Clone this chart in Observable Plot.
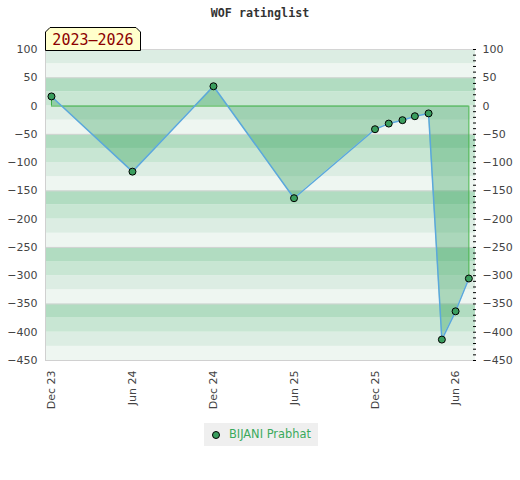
<!DOCTYPE html>
<html><head><meta charset="utf-8">
<script src="https://cdn.jsdelivr.net/npm/d3@7"></script>
<script src="https://cdn.jsdelivr.net/npm/@observablehq/plot@0.6"></script>
<style>
body{margin:0;background:#fff;}
#wrap{position:relative;width:520px;height:480px;}
#chart{position:absolute;left:0;top:0;}
#title{position:absolute;top:6px;left:0;width:520px;text-align:center;font:bold 11.7px "DejaVu Sans Mono";color:#333;}
#period{position:absolute;left:45px;top:27px;}
#legend{position:absolute;left:204px;top:423px;width:114px;height:23px;background:#efefef;font:11.4px "DejaVu Sans";color:#3aaa5c;}
#legend svg{position:absolute;left:6px;top:6px;}
#legend span{position:absolute;left:25px;top:4px;white-space:nowrap;}
</style>
</head><body>
<div id="wrap">
  <div id="chart"></div>
  <div id="title"></div>
  <svg id="period" width="97" height="24"></svg>
  <div id="legend"><svg width="12" height="12"><circle cx="6" cy="6" r="3.5" fill="#3a9e5e" stroke="#000" stroke-width="1"/></svg><span></span></div>
</div>
<script>
const chartTitle = "WOF ratinglist";
const period = "2023–2026";
const player = "BIJANI Prabhat";
const dates = ["2023-12-01","2024-06-01","2024-12-01","2025-06-01","2025-12-01","2026-01-01","2026-02-01","2026-03-01","2026-04-01","2026-05-01","2026-06-01","2026-07-01"];
const ratings = [17, -116, 35, -163, -41, -31, -25, -18, -13, -413, -363, -305];
const xTickDates = ["2023-12-01","2024-06-01","2024-12-01","2025-06-01","2025-12-01","2026-06-01"];
const yTickValues = [100, 50, 0, -50, -100, -150, -200, -250, -300, -350, -400, -450];
const yMinorTicks = d3.range(-450, 101, 10);
const gridValues = [100, 50, -50, -150, -250, -350];

const data = dates.map((d, i) => ({date: new Date(d), value: ratings[i]}));
const xDomain = [new Date("2023-11-17T12:00:00Z"), new Date("2026-07-16T00:00:00Z")];
const yDomain = [-450, 100];
const first = data[0], last = data[data.length - 1];

const shade = {25: "#b1dcc1", 0: "#c8e6d3", 75: "#dcede3", 50: "#eef6f1"};
const bands = d3.range(-450, 100, 25).map(lo => ({lo, hi: lo + 25, fill: shade[((lo % 100) + 100) % 100]}));

document.getElementById("title").textContent = chartTitle;
document.querySelector("#legend span").textContent = player;

const p = document.getElementById("period");
p.innerHTML = `<path d="M0.5,23.5 V5 L5,0.5 H91 L95.5,5 V23.5 Z" fill="#ffffcc" stroke="#000" stroke-width="1"/>
<text x="48" y="18" text-anchor="middle" font-family="DejaVu Sans Mono" font-size="15" fill="#8b0000"></text>`;
p.querySelector("text").textContent = period;

const chart = Plot.plot({
  width: 520,
  height: 415,
  marginTop: 49,
  marginRight: 45,
  marginBottom: 55,
  marginLeft: 45,
  style: {fontFamily: "DejaVu Sans", fontSize: "11px", color: "#444", background: "transparent"},
  x: {type: "utc", domain: xDomain},
  y: {domain: yDomain},
  marks: [
    Plot.rect(bands, {x1: () => xDomain[0], x2: () => xDomain[1], y1: "lo", y2: "hi", fill: "fill"}),
    Plot.ruleY(gridValues, {stroke: "#d4d4d4", strokeWidth: 1}),
    Plot.frame({anchor: "left", stroke: "#d0d0d0"}),
    Plot.frame({anchor: "bottom", stroke: "#d0d0d0"}),
    Plot.areaY(data, {x: "date", y1: 0, y2: "value", fill: "#2e9e55", fillOpacity: 0.35}),
    Plot.ruleY([0], {x1: first.date, x2: last.date, stroke: "#3cb043", strokeWidth: 1}),
    Plot.ruleX([first, last], {x: "date", y1: 0, y2: "value", stroke: "#3cb043", strokeWidth: 1}),
    Plot.line(data, {x: "date", y: "value", stroke: "#5ba8dc", strokeWidth: 1.5}),
    Plot.dot(data, {x: "date", y: "value", r: 3.5, fill: "#3a9e5e", stroke: "#000", strokeWidth: 1}),
    Plot.axisY({anchor: "left", ticks: yTickValues, tickSize: 0, tickPadding: 8, label: null}),
    Plot.axisY({anchor: "right", ticks: yMinorTicks, tickSize: 3, tickFormat: () => "", label: null, dx: -3, stroke: "#000"}),
    Plot.axisY({anchor: "right", ticks: yTickValues, tickSize: 0, tickPadding: 7, label: null}),
    Plot.axisX({ticks: xTickDates.map(d => new Date(d)), tickFormat: d3.utcFormat("%b %y"), tickRotate: -90, tickSize: 0, tickPadding: 10, label: null})
  ]
});
document.getElementById("chart").appendChild(chart);
</script>
</body></html>
